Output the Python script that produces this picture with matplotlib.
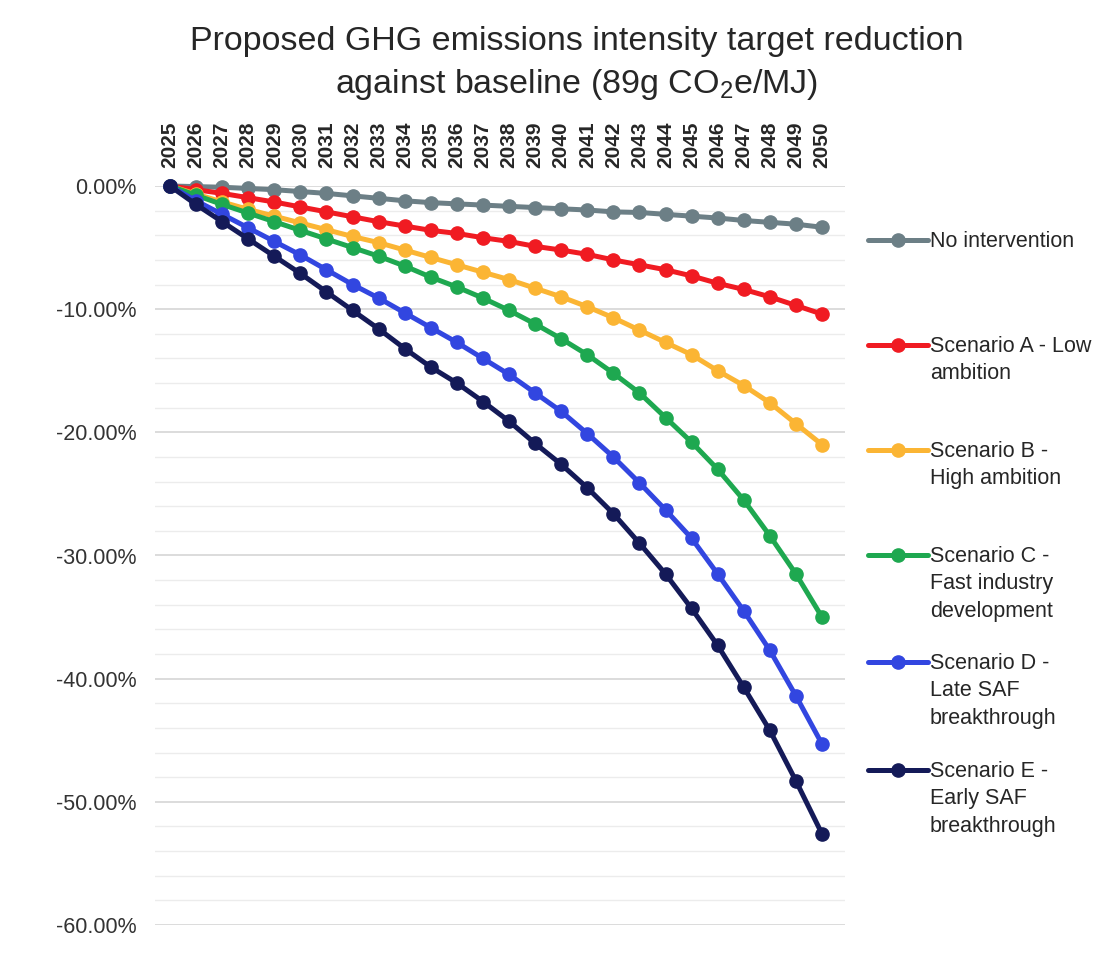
"""Proposed GHG emissions intensity target reduction, by scenario, 2025-2050."""
import matplotlib
matplotlib.use("Agg")
import matplotlib.pyplot as plt
from matplotlib.lines import Line2D
from matplotlib.ticker import FuncFormatter, MultipleLocator

plt.rcParams["font.family"] = ["Liberation Sans", "DejaVu Sans"]
plt.rcParams["mathtext.fontset"] = "custom"
plt.rcParams["mathtext.rm"] = "Liberation Sans"

years = list(range(2025, 2051))

no_intervention = [0.0, -0.05, -0.1, -0.2, -0.3, -0.45, -0.6, -0.8, -1.0, -1.2,
                   -1.35, -1.45, -1.55, -1.65, -1.75, -1.85, -1.95, -2.1, -2.15,
                   -2.3, -2.45, -2.6, -2.8, -2.95, -3.1, -3.35]
scenario_a = [0.0, -0.3, -0.6, -0.95, -1.3, -1.7, -2.1, -2.5, -2.9, -3.25,
              -3.6, -3.85, -4.2, -4.5, -4.9, -5.2, -5.55, -6.0, -6.4, -6.8,
              -7.3, -7.9, -8.4, -9.0, -9.7, -10.4]
scenario_b = [0.0, -0.65, -1.3, -1.9, -2.45, -3.0, -3.55, -4.1, -4.6, -5.2,
              -5.8, -6.4, -7.0, -7.6, -8.3, -9.0, -9.8, -10.7, -11.7, -12.7,
              -13.7, -15.0, -16.2, -17.6, -19.3, -21.0]
scenario_c = [0.0, -0.75, -1.5, -2.2, -2.9, -3.6, -4.3, -5.0, -5.7, -6.5,
              -7.4, -8.2, -9.1, -10.1, -11.2, -12.4, -13.7, -15.2, -16.8, -18.8,
              -20.8, -23.0, -25.5, -28.4, -31.5, -35.0]
scenario_d = [0.0, -1.2, -2.3, -3.4, -4.5, -5.6, -6.8, -8.0, -9.1, -10.3,
              -11.5, -12.7, -14.0, -15.3, -16.8, -18.3, -20.1, -22.0, -24.1, -26.3,
              -28.6, -31.5, -34.5, -37.7, -41.4, -45.3]
scenario_e = [0.0, -1.5, -2.9, -4.3, -5.7, -7.1, -8.6, -10.1, -11.6, -13.2,
              -14.7, -16.0, -17.5, -19.1, -20.9, -22.6, -24.5, -26.6, -29.0, -31.5,
              -34.3, -37.3, -40.7, -44.2, -48.3, -52.6]

labels = ["No intervention",
          "Scenario A - Low\nambition",
          "Scenario B -\nHigh ambition",
          "Scenario C -\nFast industry\ndevelopment",
          "Scenario D -\nLate SAF\nbreakthrough",
          "Scenario E -\nEarly SAF\nbreakthrough"]
colors = ["#6c7f86", "#f01b22", "#fbb534", "#1ea850", "#3246e0", "#141a58"]
series = [no_intervention, scenario_a, scenario_b, scenario_c, scenario_d, scenario_e]

W, H = 1115, 963
fig = plt.figure(figsize=(W / 100, H / 100), dpi=100)
ax = fig.add_axes([155 / W, 1 - 925 / H, 690 / W, 739 / H])

for vals, col in zip(series, colors):
    ax.plot(years, vals, color=col, lw=3.6, marker="o", ms=9.5,
            solid_capstyle="round", clip_on=False, zorder=3)

ax.set_xlim(2025 - 15 / 26.08, 2050 + 23 / 26.08)
ax.set_ylim(-60, 0)
ax.yaxis.set_major_locator(MultipleLocator(10))
ax.yaxis.set_minor_locator(MultipleLocator(2))
ax.yaxis.set_major_formatter(FuncFormatter(lambda v, _: f"{v:.2f}%"))
ax.grid(True, which="major", axis="y", color="#d6d6d6", lw=1.2)
ax.grid(True, which="minor", axis="y", color="#ececec", lw=1.0)
ax.set_axisbelow(True)
for s in ax.spines.values():
    s.set_visible(False)

ax.set_xticks(years)
ax.xaxis.tick_top()
ax.tick_params(axis="x", length=0, pad=13, labelsize=15, rotation=90,
               labelcolor="#262626")
for t in ax.get_xticklabels():
    t.set_fontweight("bold")
ax.tick_params(axis="y", which="both", length=0, pad=13, labelsize=15.5,
               labelcolor="#333333")

fig.text(577 / W, 1 - 26 / H,
         "Proposed GHG emissions intensity target reduction\n"
         r"against baseline (89g CO$_\mathregular{2}$e/MJ)",
         ha="center", va="top", fontsize=24.5, color="#262626", linespacing=1.38)

# legend drawn by hand so each handle lines up with the first text line
leg_y = [240, 345, 450, 555, 662, 770]
for lab, col, yp in zip(labels, colors, leg_y):
    yf = 1 - yp / H
    fig.add_artist(Line2D([868 / W, 928 / W], [yf, yf], color=col, lw=3.6,
                          solid_capstyle="round"))
    fig.add_artist(Line2D([898 / W], [yf], color=col, marker="o", ms=9.5))
    fig.text(930 / W, 1 - (yp - 9) / H, lab, ha="left", va="top",
             fontsize=15.5, color="#262626", linespacing=1.4)

fig.savefig("out.png", dpi=100)
